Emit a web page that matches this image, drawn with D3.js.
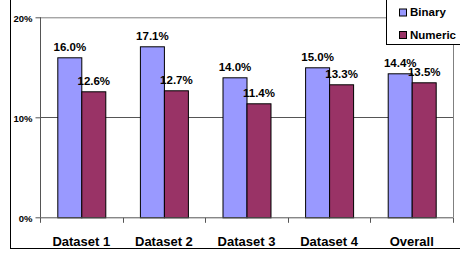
<!DOCTYPE html>
<html><head><meta charset="utf-8">
<script src="https://cdn.jsdelivr.net/npm/d3@7/dist/d3.min.js"></script>
<style>html,body{margin:0;padding:0;background:#fff;}svg{display:block;font-family:"Liberation Sans",Arial,sans-serif;font-weight:bold;}</style>
</head><body>
<script>
const categories = ["Dataset 1","Dataset 2","Dataset 3","Dataset 4","Overall"];
const seriesNames = ["Binary","Numeric"];
const binary = [16.0,17.1,14.0,15.0,14.4];
const numeric = [12.6,12.7,11.4,13.3,13.5];
const yTicks = [0,10,20];
const colors = ["#9999FF","#993366"];

const W=460,H=255;
const svg=d3.select("body").append("svg").attr("width",W).attr("height",H);
const L=40,R=453,T=17.3,B=217.3;
const x0=d3.scaleBand().domain(categories).range([L,R]).paddingInner(0.419).paddingOuter(0.2095);
const x1=d3.scaleBand().domain(seriesNames).range([0,x0.bandwidth()]);
const y=d3.scaleLinear().domain([0,20]).range([B,T]);

// outer frame
svg.append("rect").attr("x",10.5).attr("y",-5).attr("width",W).attr("height",248.5+5).attr("fill","none").attr("stroke","#000");

// plot frame top/right
svg.append("path").attr("d",`M${L},${y(20)+0.5}H${R+0.5}V${B}`).attr("fill","none").attr("stroke","#808080");
// gridline
svg.append("line").attr("x1",L).attr("x2",R).attr("y1",Math.round(y(10))+0.5).attr("y2",Math.round(y(10))+0.5).attr("stroke","#555");

const data=categories.map((c,i)=>({c,vals:[{s:"Binary",v:binary[i]},{s:"Numeric",v:numeric[i]}]}));
const g=svg.selectAll(".grp").data(data).join("g").attr("transform",d=>`translate(${x0(d.c)},0)`);
g.selectAll("rect").data(d=>d.vals).join("rect")
 .attr("x",d=>x1(d.s)+0.5).attr("width",x1.bandwidth())
 .attr("y",d=>y(d.v)+0.5).attr("height",d=>B-y(d.v))
 .attr("fill",(d,i)=>colors[i]).attr("stroke","#000").attr("stroke-width",1);
g.selectAll("text").data(d=>d.vals).join("text")
 .attr("x",d=>x1(d.s)+x1.bandwidth()/2+0.5).attr("y",d=>y(d.v)-6)
 .attr("text-anchor","middle").attr("font-size","11.5px").attr("fill","#000")
 .text(d=>d.v.toFixed(1)+"%");

// y axis
const ya=svg.append("g").attr("transform",`translate(${L+0.5},0)`)
 .call(d3.axisLeft(y).tickValues(yTicks).tickSize(5).tickFormat(d=>d+"%"));
ya.select(".domain").attr("stroke","#555").attr("d",`M0,${B}V${T}`);
ya.selectAll(".tick line").attr("stroke","#555");
ya.selectAll(".tick text").attr("font-size","9.5px").attr("font-family","Liberation Sans, Arial, sans-serif").attr("font-weight","bold").attr("fill","#000").attr("x",-8).attr("dy","0.45em");

// x axis
const xa=svg.append("g").attr("transform",`translate(0,${B+0.5})`)
 .call(d3.axisBottom(x0).tickSize(0).tickFormat(d=>d));
xa.select(".domain").attr("stroke","#555").attr("d",`M${L},0H${R+0.5}`);
xa.selectAll(".tick text").attr("font-size","13px").attr("font-family","Liberation Sans, Arial, sans-serif").attr("font-weight","bold").attr("fill","#000").attr("y",19).attr("dy","0.71em");
const boundaries=d3.range(categories.length+1).map(i=>L+i*x0.step());
xa.selectAll(".bt").data(boundaries).join("line").attr("class","bt")
 .attr("x1",d=>Math.round(d)+0.5).attr("x2",d=>Math.round(d)+0.5).attr("y1",0).attr("y2",5).attr("stroke","#555");

// legend
svg.append("rect").attr("x",386.5).attr("y",-5).attr("width",100).attr("height",49.5).attr("fill","#fff").attr("stroke","#000");
const lg=svg.selectAll(".leg").data(seriesNames).join("g").attr("transform",(d,i)=>`translate(399,${8.5+i*22.5})`);
lg.append("rect").attr("x",0.5).attr("y",0.5).attr("width",7).attr("height",7).attr("fill",(d,i)=>colors[i]).attr("stroke","#000");
lg.append("text").attr("x",11).attr("y",7.5).attr("font-size","11.5px").attr("fill","#000").text(d=>d);
</script>
</body></html>
